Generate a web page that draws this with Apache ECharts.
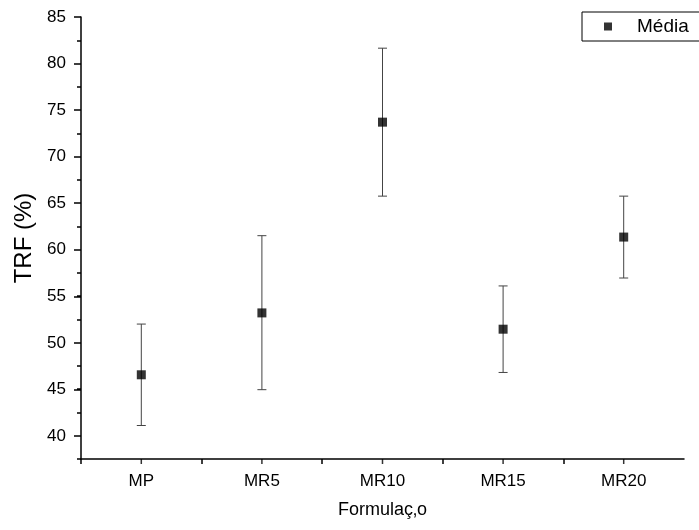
<!DOCTYPE html>
<html>
<head>
<meta charset="utf-8">
<script src="https://cdn.jsdelivr.net/npm/echarts@6/dist/echarts.min.js"></script>
<style>
html, body { margin: 0; padding: 0; background: #fff; }
#chart { width: 699px; height: 530px; }
</style>
</head>
<body>
<div id="chart"></div>
<script>
var categories = ['MP', 'MR5', 'MR10', 'MR15', 'MR20'];
var means = [46.55, 53.2, 73.7, 51.45, 61.35];
var errLow = [41.1, 44.95, 65.75, 46.8, 56.95];
var errHigh = [52.0, 61.5, 81.65, 56.1, 65.75];

var myChart = echarts.init(document.getElementById('chart'));
var font = '"Liberation Sans", Arial, sans-serif';

var yMin = 37.5;
var pointData = [];
var errData = [];
var tickData = [];
for (var i = 0; i < categories.length; i++) {
    pointData.push([i + 1, means[i]]);
    errData.push([i + 1, errLow[i], errHigh[i]]);
    tickData.push([i + 1, yMin]);
}

// one category slot in px; labels sit half a slot right of the boundary ticks
var slot = (699 - 81 - 15) / categories.length;

var tickStyle = { color: '#000', width: 1.5 };

var option = {
    animation: false,
    textStyle: { fontFamily: font },
    grid: [
        { left: 81, right: 15, top: 17, bottom: 71 },
        { left: 81, right: 15, top: 17, bottom: 94 }
    ],
    legend: {
        data: ['Média'],
        left: 582,
        top: 12,
        padding: [5, 40, 5, 22],
        borderColor: '#000',
        borderWidth: 1,
        itemWidth: 8,
        itemHeight: 8,
        icon: 'rect',
        formatter: '{t|{name}}',
        textStyle: {
            fontSize: 19,
            color: '#000',
            fontFamily: font,
            rich: { t: { fontSize: 19, fontFamily: font, padding: [0, 0, 0, 20] } }
        }
    },
    xAxis: [{
        type: 'value',
        gridIndex: 0,
        min: 0.5,
        max: 5.5,
        interval: 1,
        name: 'Formulaç‚o',
        nameLocation: 'middle',
        nameGap: 42,
        nameTextStyle: { fontSize: 18, color: '#000', fontFamily: font },
        splitLine: { show: false },
        axisLine: { show: true, lineStyle: tickStyle },
        axisTick: { show: true, length: 5, lineStyle: tickStyle },
        axisLabel: {
            fontSize: 17,
            color: '#000',
            margin: 14,
            showMaxLabel: false,
            formatter: function (v) {
                var k = Math.round(v + 0.5);
                if (k >= 1 && k <= categories.length) {
                    return '{c|' + categories[k - 1] + '}';
                }
                return '';
            },
            rich: {
                c: { fontSize: 17, color: '#000', fontFamily: font, padding: [0, 0, 0, slot] }
            }
        }
    }, {
        type: 'value',
        gridIndex: 1,
        show: false,
        min: 0.5,
        max: 5.5
    }],
    yAxis: [{
        type: 'value',
        gridIndex: 0,
        min: yMin,
        max: 85,
        interval: 2.5,
        name: 'TRF (%)',
        nameLocation: 'middle',
        nameGap: 45,
        nameTextStyle: { fontSize: 24, color: '#000', fontFamily: font },
        splitLine: { show: false },
        axisLine: { show: true, lineStyle: tickStyle },
        axisTick: { show: true, length: 4, lineStyle: tickStyle },
        axisLabel: { show: false }
    }, {
        type: 'value',
        gridIndex: 1,
        min: 40,
        max: 85,
        interval: 5,
        splitLine: { show: false },
        axisLine: { show: false },
        axisTick: { show: true, length: 7, lineStyle: tickStyle },
        axisLabel: { fontSize: 17, color: '#000', margin: 15 }
    }],
    series: [{
        name: 'errorbar',
        type: 'custom',
        xAxisIndex: 0,
        yAxisIndex: 0,
        data: errData,
        z: 2,
        renderItem: function (params, api) {
            var x = api.value(0);
            var lo = api.coord([x, api.value(1)]);
            var hi = api.coord([x, api.value(2)]);
            var cap = 4.5;
            var style = { stroke: '#444', lineWidth: 1, fill: null };
            return {
                type: 'group',
                children: [
                    { type: 'line', shape: { x1: lo[0], y1: lo[1], x2: hi[0], y2: hi[1] }, style: style },
                    { type: 'line', shape: { x1: lo[0] - cap, y1: lo[1], x2: lo[0] + cap, y2: lo[1] }, style: style },
                    { type: 'line', shape: { x1: hi[0] - cap, y1: hi[1], x2: hi[0] + cap, y2: hi[1] }, style: style }
                ]
            };
        }
    }, {
        name: 'Média',
        type: 'scatter',
        xAxisIndex: 0,
        yAxisIndex: 0,
        symbol: 'rect',
        symbolSize: 9,
        itemStyle: { color: '#000' },
        z: 3,
        data: pointData
    }, {
        // category ticks hanging under the x axis at each category centre
        name: 'ticks',
        type: 'scatter',
        xAxisIndex: 0,
        yAxisIndex: 0,
        clip: false,
        silent: true,
        symbol: 'rect',
        symbolSize: [1.5, 5],
        symbolOffset: [0, 2.5],
        itemStyle: { color: '#000' },
        z: 10,
        data: tickData
    }]
};

myChart.setOption(option);
</script>
</body>
</html>
